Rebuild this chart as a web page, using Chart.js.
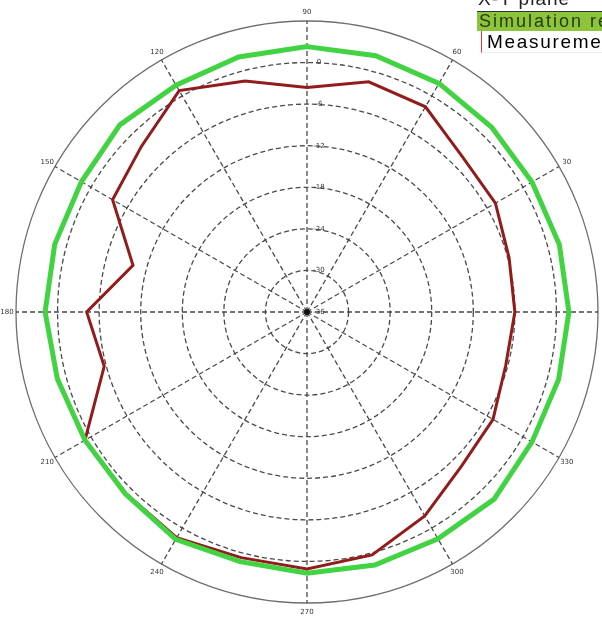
<!DOCTYPE html>
<html>
<head>
<meta charset="utf-8">
<script src="https://cdn.jsdelivr.net/npm/chart.js@4.4.0/dist/chart.umd.min.js"></script>
<style>
  html, body { margin: 0; padding: 0; background: #fff; overflow: hidden; }
  #wrap { position: relative; width: 602px; height: 628px; overflow: hidden; }
  #legend { position: absolute; left: 477px; top: -8px; width: 260px; font-family: "Liberation Sans", Arial, sans-serif; }
  #legend div { height: 19px; line-height: 19px; white-space: nowrap; }
  #legend .title { padding-left: 1px; line-height: 14px; font-size: 19px; letter-spacing: 1px; color: #222; border-bottom: 1px solid #333; }
  #legend .sim { padding-left: 2px; font-size: 18px; letter-spacing: 2px; background: #8cc43c; color: #2a3a12; }
  #legend .meas { margin-left: 4px; padding-left: 5px; height: 21px; line-height: 21px; font-size: 19px; letter-spacing: 1.7px;
                  border-left: 1px solid #e23a3a; border-bottom: 1px solid #eee; color: #000; }
</style>
</head>
<body>
<div id="wrap">
  <canvas id="polar" width="602" height="628"></canvas>
  <div id="legend">
    <div class="title">X-Y plane</div>
    <div class="sim">Simulation result</div>
    <div class="meas">Measurement result</div>
  </div>
</div>
<script>
// angles in degrees, 0 at the right, counter-clockwise
const angleDeg = [0, 15, 30, 45, 60, 75, 90, 105, 120, 135, 150, 165,
                  180, 195, 210, 225, 240, 255, 270, 285, 300, 315, 330, 345];
// gain in dB
const simulation = [1.8, 1.7, 1.5, 1.7, 2.1, 2.3, 2.3, 2.1, 1.8, 2.2, 1.6, 1.7,
                    1.8, 1.3, 1.0, 1.1, 1.9, 1.3, 1.7, 1.8, 1.8, 2.2, 1.5, 1.6];
const measurement = [-6.0, -5.8, -4.6, -4.3, -1.8, -1.6, -3.6, -1.5, 0.9, -2.2, -3.6, -10.0,
                     -4.2, -5.7, 1.0, 1.0, 1.6, 0.7, 1.1, 0.3, -2.0, -4.5, -5.0, -6.3];
const radialTicks = [-36, -30, -24, -18, -12, -6, 0];
const angleTicks = [30, 60, 90, 120, 150, 180, 210, 240, 270, 300, 330];

// radar goes clockwise from the top, so start at 90 and walk down
const order = angleDeg.map((_, i) => ((90 - i * 15) % 360 + 360) % 360);
const labels = order.map(a => String(a));
const pick = arr => order.map(a => arr[angleDeg.indexOf(a)]);

const polarLabels = {
    id: 'polarLabels',
    afterDraw(chart) {
        const r = chart.scales.r;
        const ctx = chart.ctx;
        ctx.save();
        ctx.font = '7px "DejaVu Sans"';
        ctx.fillStyle = '#333';
        ctx.textAlign = 'center';
        ctx.textBaseline = 'middle';
        radialTicks.forEach(v => {
            const d = r.getDistanceFromCenterForValue(v);
            ctx.fillText(String(v), r.xCenter + 12, r.yCenter - d);
        });
        angleTicks.forEach(a => {
            const p = r.getPointPosition(order.indexOf(a), r.drawingArea + 9);
            ctx.fillText(String(a), p.x, p.y);
        });
        ctx.beginPath();
        ctx.arc(r.xCenter, r.yCenter, 3, 0, Math.PI * 2);
        ctx.fillStyle = '#111';
        ctx.fill();
        ctx.restore();
    }
};

new Chart(document.getElementById('polar'), {
    type: 'radar',
    data: {
        labels: labels,
        datasets: [{
            label: 'Simulation result',
            data: pick(simulation),
            borderColor: '#42d342',
            borderWidth: 5,
            pointRadius: 0,
            fill: false
        }, {
            label: 'Measurement result',
            data: pick(measurement),
            borderColor: '#921c1c',
            borderWidth: 3,
            pointRadius: 0,
            fill: false
        }]
    },
    options: {
        responsive: false,
        animation: false,
        layout: { padding: { left: 16, right: 4, top: 0, bottom: 4 } },
        plugins: { legend: { display: false }, tooltip: { enabled: false } },
        elements: { line: { tension: 0 } },
        scales: {
            r: {
                min: -36,
                max: 6,
                ticks: { stepSize: 6, display: false },
                grid: {
                    circular: true,
                    color: c => c.tick && c.tick.value === 6 ? '#6e6e6e' : '#4a4a4a',
                    lineWidth: 1.3
                },
                border: { dash: c => c.tick && c.tick.value === 6 ? [] : [5, 3] },
                angleLines: {
                    color: c => Number(labels[c.index]) % 30 === 0 ? '#4a4a4a' : 'transparent',
                    lineWidth: 1.3,
                    borderDash: [5, 3]
                },
                pointLabels: { display: false }
            }
        }
    },
    plugins: [polarLabels]
});
</script>
</body>
</html>
